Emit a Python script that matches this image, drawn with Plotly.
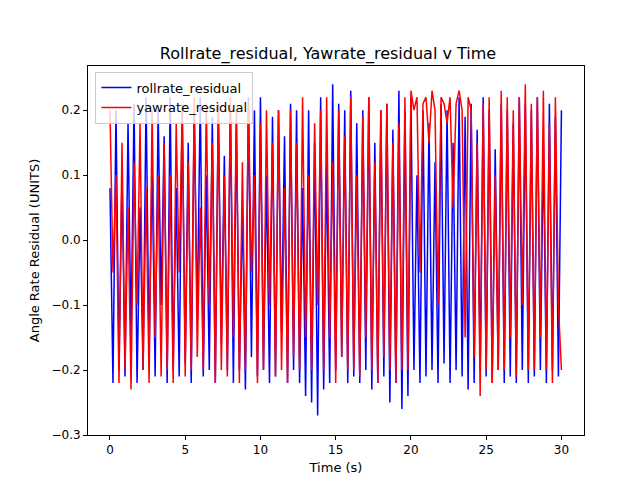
import numpy as np
import plotly.graph_objects as go

# residual samples (approx.)
rollrate_residual = [
    0.08, -0.22, 0.2, -0.2, 0.1, -0.21, 0.18, -0.15, 0.21, -0.22, 0.05, -0.2, 0.22, -0.18, 0.12, -0.21, 0.2, -0.1, 0.16, -0.22,
    0.22, -0.2, 0.08, -0.21, 0.21, -0.19, 0.15, -0.22, 0.2, -0.12, 0.22, -0.21, 0.1, -0.2, 0.19, -0.22, 0.21, -0.16, 0.13, -0.2,
    0.21, -0.22, 0.18, -0.2, 0.05, -0.23, 0.22, -0.18, 0.2, -0.21, 0.22, -0.2, 0.1, -0.22, 0.19, -0.21, 0.2, -0.14, 0.16, -0.22,
    0.21, -0.2, 0.2, -0.22, 0.08, -0.24, 0.2, -0.25, 0.15, -0.27, 0.22, -0.23, 0.12, -0.22, 0.24, -0.2, 0.21, -0.18, 0.2, -0.22,
    0.23, -0.21, 0.18, -0.22, 0.2, -0.2, 0.22, -0.23, 0.15, -0.22, 0.2, -0.21, 0.21, -0.25, 0.17, -0.22, 0.23, -0.26, 0.2, -0.24,
    0.22, -0.2, 0.1, -0.22, 0.2, -0.21, 0.18, -0.2, 0.12, -0.22, 0.21, -0.19, 0.2, -0.22, 0.15, -0.2, 0.22, -0.21, 0.19, -0.23,
    0.21, -0.22, 0.17, -0.2, 0.22, -0.21, 0.2, -0.22, 0.14, -0.2, 0.21, -0.22, 0.2, -0.21, 0.18, -0.22, 0.22, -0.2, 0.21, -0.22,
    0.2, -0.21, 0.22, -0.2, 0.15, -0.22, 0.21, -0.2, 0.19, -0.21, 0.2,
]
yawrate_residual = [
    0.2, -0.05, 0.1, -0.22, 0.15, -0.2, 0.05, -0.23, 0.12, -0.1, 0.18, -0.2, 0.08, -0.22, 0.2, -0.15, 0.1, -0.21, 0.15, -0.2,
    0.1, -0.22, 0.18, -0.05, 0.2, -0.21, 0.12, -0.2, 0.22, -0.18, 0.05, -0.2, 0.21, -0.1, 0.15, -0.22, 0.2, -0.2, 0.1, -0.21,
    0.22, -0.15, 0.2, -0.22, 0.12, -0.2, 0.21, -0.05, 0.1, -0.22, 0.18, -0.2, 0.2, -0.1, 0.15, -0.21, 0.2, -0.2, 0.08, -0.22,
    0.2, -0.18, 0.15, -0.2, 0.22, -0.15, 0.1, -0.2, 0.18, -0.1, 0.2, -0.2, 0.22, -0.15, 0.12, -0.22, 0.2, -0.18, 0.16, -0.2,
    0.22, -0.2, 0.1, -0.21, 0.19, -0.15, 0.22, -0.2, 0.12, -0.22, 0.2, -0.18, 0.21, -0.2, 0.15, -0.22, 0.18, -0.2, 0.22, -0.2,
    0.23, 0.2, 0.22, -0.05, 0.21, 0.22, 0.15, 0.23, 0.2, -0.1, 0.22, 0.21, 0.18, 0.22, 0.05, 0.21, 0.23, 0.2, -0.15, 0.22,
    0.2, -0.18, 0.15, -0.24, 0.21, -0.2, 0.22, -0.22, 0.1, -0.2, 0.23, -0.2, 0.22, -0.15, 0.2, -0.21, 0.22, -0.1, 0.24, -0.2,
    0.21, -0.2, 0.22, -0.15, 0.23, -0.2, 0.18, -0.22, 0.22, -0.1, -0.2,
]
time_s = np.linspace(0, 30, len(rollrate_residual))

fig = go.Figure()
fig.add_trace(go.Scatter(x=time_s, y=rollrate_residual, mode="lines",
                         name="rollrate_residual", line=dict(color="blue", width=1.5)))
fig.add_trace(go.Scatter(x=time_s, y=yawrate_residual, mode="lines",
                         name="yawrate_residual", line=dict(color="red", width=1.5)))

axis_style = dict(showgrid=False, zeroline=False, showline=True, linecolor="black",
                  mirror=True, ticks="outside", ticklen=4, tickcolor="black", automargin=False)
fig.update_layout(
    width=640, height=480,
    font=dict(family="DejaVu Sans", size=12, color="black"),
    title=dict(text="Rollrate_residual, Yawrate_residual v Time", x=0.5, y=0.905,
               xanchor="center", yanchor="middle", font_size=16),
    paper_bgcolor="white", plot_bgcolor="white",
    margin=dict(l=80, r=64, t=58, b=53),
    xaxis=dict(range=[-1.46, 31.5], tickvals=[0, 5, 10, 15, 20, 25, 30],
               title=dict(text="Time (s)", standoff=6, font_size=13), **axis_style),
    yaxis=dict(range=[-0.3, 0.268], tickvals=[-0.3, -0.2, -0.1, 0.0, 0.1, 0.2],
               tickformat=".1f", title=dict(text="Angle Rate Residual (UNITS)", standoff=8, font_size=13),
               **axis_style),
    legend=dict(x=0.015, y=0.985, xanchor="left", yanchor="top", bgcolor="rgba(255,255,255,0.8)",
                bordercolor="#cccccc", borderwidth=1, font_size=13),
)

fig.write_html("out.html")
